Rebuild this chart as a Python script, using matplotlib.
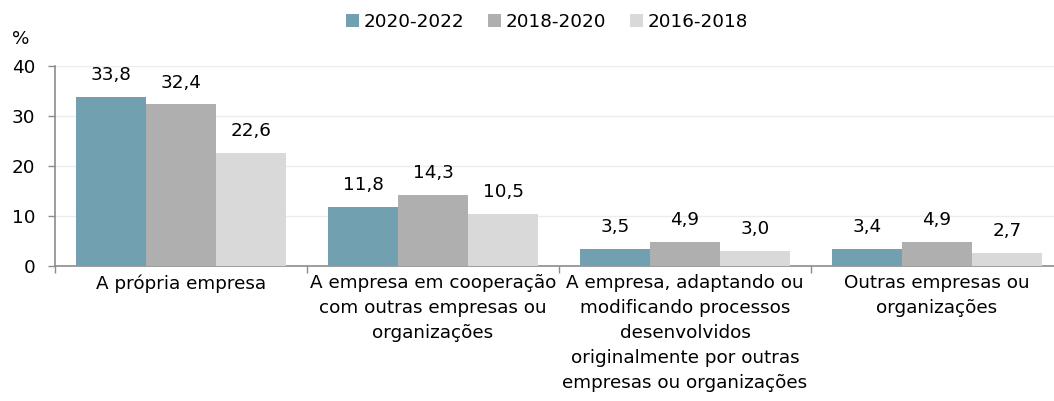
import matplotlib
matplotlib.use("Agg")
import matplotlib.pyplot as plt
import numpy as np

categories = [
    "A própria empresa",
    "A empresa em cooperação\ncom outras empresas ou\norganizações",
    "A empresa, adaptando ou\nmodificando processos\ndesenvolvidos\noriginalmente por outras\nempresas ou organizações",
    "Outras empresas ou\norganizações",
]
series_names = ["2020-2022", "2018-2020", "2016-2018"]
v2020_2022 = [33.8, 11.8, 3.5, 3.4]
v2018_2020 = [32.4, 14.3, 4.9, 4.9]
v2016_2018 = [22.6, 10.5, 3.0, 2.7]
colors = ["#71a0b0", "#afafaf", "#d9d9d9"]
yticks = [0, 10, 20, 30, 40]

plt.rcParams['font.family'] = ['DejaVu Sans']
fig = plt.figure(figsize=(10.54, 4.01), dpi=100)
ax = fig.add_axes([55/1054, (401-266)/401, 1008/1054, 200/401])

x = np.arange(len(categories))
w = 0.278
fs = 13.2
for i, (vals, name, c) in enumerate(zip([v2020_2022, v2018_2020, v2016_2018], series_names, colors)):
    bars = ax.bar(x + (i - 1) * w, vals, width=w, color=c, label=name, zorder=3)
    for b, v in zip(bars, vals):
        ax.annotate(f"{v:.1f}".replace(".", ","), (b.get_x() + b.get_width()/2, v),
                    xytext=(0, 9), textcoords="offset points", ha="center", va="bottom",
                    fontsize=fs, color="black")

ax.set_xlim(-0.5, len(categories) - 0.5)
ax.set_ylim(0, 40)
ax.set_yticks(yticks)
ax.set_yticklabels([str(t) for t in yticks], fontsize=fs)
ax.yaxis.grid(True, color="#ececec", linewidth=1, zorder=0)
ax.set_xticks(x)
ax.set_xticklabels(categories, fontsize=fs, linespacing=1.5, va="top")
ax.set_xticks(np.arange(len(categories) + 1) - 0.5, minor=True)
ax.tick_params(axis="x", which="major", length=0, pad=6)
ax.tick_params(axis="x", which="minor", length=5, color="#8c8c8c", width=1)
ax.tick_params(axis="y", length=5, color="#8c8c8c", width=1, pad=9)
for s in ["top", "right"]:
    ax.spines[s].set_visible(False)
for s in ["left", "bottom"]:
    ax.spines[s].set_color("#8c8c8c")
    ax.spines[s].set_linewidth(1.2)

fig.text(12/1054, 1 - 39/401, "%", fontsize=fs, va="center", ha="left")
fig.legend(loc="center", bbox_to_anchor=(547/1054, 1 - 22/401), ncol=3, frameon=False,
           fontsize=fs, handlelength=0.7, handleheight=0.7, handletextpad=0.25,
           columnspacing=1.3)

fig.savefig("out.png", dpi=100)
